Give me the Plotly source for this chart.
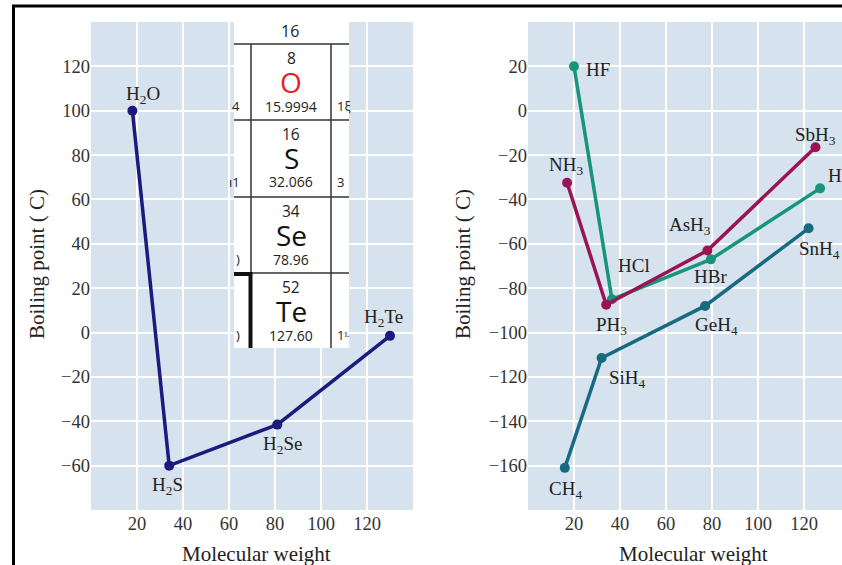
import plotly.graph_objects as go

W, H = 842, 565

# ---------------- data ----------------
g16_names = ["H<sub>2</sub>O", "H<sub>2</sub>S", "H<sub>2</sub>Se", "H<sub>2</sub>Te"]
g16_mw = [18, 34, 81, 130]
g16_bp = [100, -60, -41.5, -1.5]

g17_names = ["HF", "HCl", "HBr", "HI"]
g17_mw = [20, 36.5, 79.5, 127]
g17_bp = [20, -85, -67, -35]

g15_names = ["NH<sub>3</sub>", "PH<sub>3</sub>", "AsH<sub>3</sub>", "SbH<sub>3</sub>"]
g15_mw = [17, 34, 78, 125]
g15_bp = [-32.5, -87.5, -63, -16.5]

g14_names = ["CH<sub>4</sub>", "SiH<sub>4</sub>", "GeH<sub>4</sub>", "SnH<sub>4</sub>"]
g14_mw = [16, 32, 77, 122]
g14_bp = [-161, -111.5, -88, -53]

left_yticks = [-60, -40, -20, 0, 20, 40, 60, 80, 100, 120]
right_yticks = [-160, -140, -120, -100, -80, -60, -40, -20, 0, 20]
xticks = [20, 40, 60, 80, 100, 120]

# inset (periodic table fragment) texts
pt_header = "16"
pt_numbers = ["8", "16", "34", "52"]
pt_symbols = ["O", "S", "Se", "Te"]
pt_weights = ["15.9994", "32.066", "78.96", "127.60"]
pt_symbol_colors = ["#e8231f", "#111111", "#111111", "#111111"]
pt_left_frag = ["4", "ı1", ")", ")"]
pt_right_frag = ["1ξ", "3", "", "1ᴸ"]

# colours
NAVY = "#1c1a7c"
GREEN = "#17957a"
MAROON = "#9b1354"
TEAL = "#176a80"
BG = "#d6e2ee"
SERIF = "Liberation Serif"
SANS = "Open Sans"

def px(x):
    return x / W

def py(y):
    return 1 - y / H

fig = go.Figure()

def add_series(xs, ys, color, xa, ya):
    fig.add_trace(go.Scatter(
        x=xs, y=ys, mode="lines+markers",
        line=dict(color=color, width=3.5),
        marker=dict(color=color, size=10),
        xaxis=xa, yaxis=ya, showlegend=False, hoverinfo="skip"))

add_series(g16_mw, g16_bp, NAVY, "x", "y")
add_series(g14_mw, g14_bp, TEAL, "x2", "y2")
add_series(g17_mw, g17_bp, GREEN, "x2", "y2")
add_series(g15_mw, g15_bp, MAROON, "x2", "y2")

annots = []

def label(name, x, y, xa, ya, dx, dy, anchor="center"):
    annots.append(dict(
        text=name, x=x, y=y, xref=xa, yref=ya, showarrow=False,
        xshift=dx, yshift=dy, xanchor=anchor, yanchor="middle",
        font=dict(family=SERIF, size=19, color="#222222")))

# offsets (px) for labels relative to points
left_off = [(11, 16), (-2, -20), (5, -20), (-7, 18)]
for n, x, y, (dx, dy) in zip(g16_names, g16_mw, g16_bp, left_off):
    label(n, x, y, "x", "y", dx, dy)

g17_off = [(10, -3, "left"), (22, 34, "center"), (0, -17, "center"), (6, 13, "left")]
for n, x, y, (dx, dy, a) in zip(g17_names, g17_mw, g17_bp, g17_off):
    label(n, x, y, "x2", "y2", dx, dy, a)

g15_off = [(-1, 17, "center"), (5, -21, "center"), (-17, 24, "center"), (0, 11, "center")]
for n, x, y, (dx, dy, a) in zip(g15_names, g15_mw, g15_bp, g15_off):
    label(n, x, y, "x2", "y2", dx, dy, a)

g14_off = [(1, -22, "center"), (26, -21, "center"), (11, -20, "center"), (-12, -22, "left")]
for n, x, y, (dx, dy, a) in zip(g14_names, g14_mw, g14_bp, g14_off):
    label(n, x, y, "x2", "y2", dx, dy, a)

# axis titles
for cx in (256, 693):
    annots.append(dict(text="Molecular weight", x=px(cx), y=py(554), xref="paper", yref="paper",
                       showarrow=False, xanchor="center", yanchor="middle",
                       font=dict(family=SERIF, size=21, color="#222222")))
for cx in (37, 463):
    annots.append(dict(text="Boiling point ( C)", x=px(cx), y=py(264), xref="paper", yref="paper",
                       showarrow=False, xanchor="center", yanchor="middle", textangle=-90,
                       font=dict(family=SERIF, size=21, color="#222222")))

# inset periodic table
shapes = []
IX0, IX1, IT, IB = 234, 349, 22, 348
VL1, VL2 = 251, 331
rows = [44, 120, 197, 273, IB]
shapes.append(dict(type="rect", xref="paper", yref="paper", x0=px(IX0), x1=px(IX1), y0=py(IB), y1=py(IT),
                   fillcolor="white", line=dict(width=0), layer="above"))
for r in rows[:-1]:
    shapes.append(dict(type="line", xref="paper", yref="paper", x0=px(IX0), x1=px(IX1), y0=py(r), y1=py(r),
                       line=dict(color="#333333", width=1.5), layer="above"))
for vx in (VL1, VL2):
    shapes.append(dict(type="line", xref="paper", yref="paper", x0=px(vx), x1=px(vx), y0=py(44), y1=py(IB),
                       line=dict(color="#333333", width=1.5), layer="above"))
# thick bracket
shapes.append(dict(type="line", xref="paper", yref="paper", x0=px(IX0), x1=px(252), y0=py(274), y1=py(274),
                   line=dict(color="#111111", width=4), layer="above"))
shapes.append(dict(type="line", xref="paper", yref="paper", x0=px(250.5), x1=px(250.5), y0=py(272), y1=py(IB),
                   line=dict(color="#111111", width=4), layer="above"))

def itext(t, x, y, size, color="#222222", anchor="center"):
    annots.append(dict(text=t, x=px(x), y=py(y), xref="paper", yref="paper", showarrow=False,
                       xanchor=anchor, yanchor="middle", borderpad=0,
                       font=dict(family=SANS, size=size, color=color)))

itext(pt_header, 290, 31, 16)
for i in range(4):
    top = rows[i]
    itext(pt_numbers[i], 291, top + 14, 15.5)
    itext(pt_symbols[i], 291, top + 38, 28, pt_symbol_colors[i])
    itext(pt_weights[i], 291, top + 62, 14)
    if pt_left_frag[i]:
        itext(pt_left_frag[i], 241, top + 62, 13, anchor="right")
    if pt_right_frag[i]:
        itext(pt_right_frag[i], 336, top + 62, 13, anchor="left")

# figure border (top and left edges visible)
shapes.append(dict(type="line", xref="paper", yref="paper", x0=px(12), x1=px(845), y0=py(6), y1=py(6),
                   line=dict(color="black", width=3), layer="above"))
shapes.append(dict(type="line", xref="paper", yref="paper", x0=px(13.5), x1=px(13.5), y0=py(5), y1=py(570),
                   line=dict(color="black", width=3), layer="above"))

tickfont = dict(family=SERIF, size=18.5, color="#333333")
common = dict(showgrid=True, gridcolor="white", gridwidth=2, zeroline=False, showline=False,
              ticks="", tickfont=tickfont, automargin=False, fixedrange=True)

ydom = [py(510), py(22)]
fig.update_layout(
    width=W, height=H,
    margin=dict(l=0, r=0, t=0, b=0),
    paper_bgcolor="white", plot_bgcolor=BG,
    showlegend=False,
    xaxis=dict(domain=[px(91), px(413)], range=[0, 140], tickvals=xticks, anchor="y", **common),
    yaxis=dict(domain=ydom, range=[-80, 140], tickvals=left_yticks, anchor="x", **common),
    xaxis2=dict(domain=[px(528), 1.0], range=[0, (842 - 528) / 2.3], tickvals=xticks, anchor="y2", **common),
    yaxis2=dict(domain=ydom, range=[-180, 40], tickvals=right_yticks, anchor="x2", **common),
    annotations=annots,
    shapes=shapes,
)

fig.write_html("out.html", config={"displayModeBar": False},
               post_script="document.body.style.margin='0';document.body.style.overflow='hidden';")
